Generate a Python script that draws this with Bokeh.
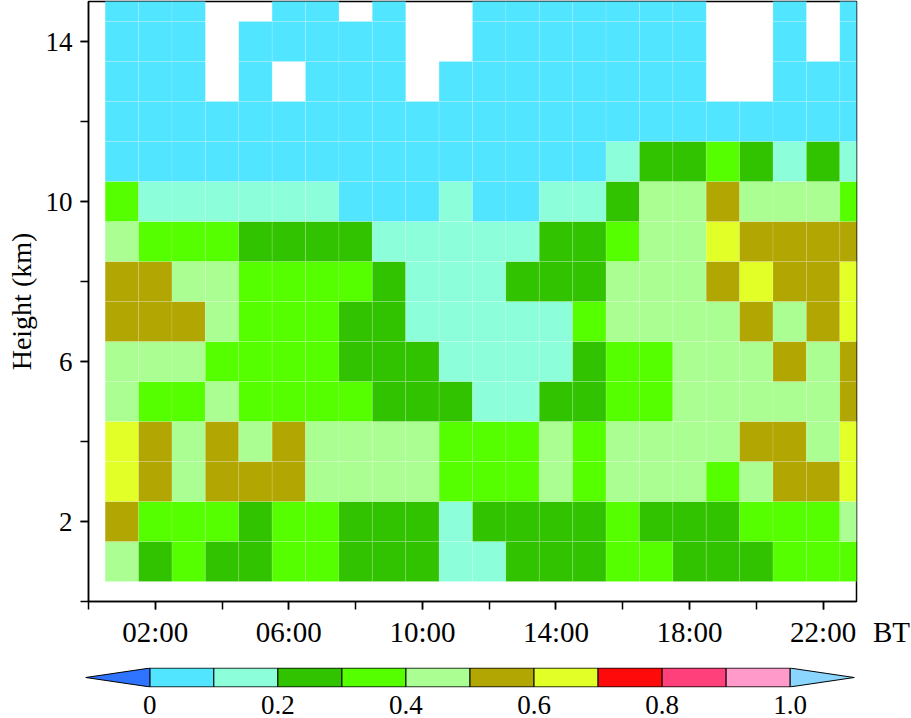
from bokeh.plotting import figure
from bokeh.models import FixedTicker, LinearColorMapper, ColumnDataSource, Range1d
from bokeh.layouts import column, row
from bokeh.transform import transform
from bokeh.embed import file_html
from bokeh.resources import INLINE

# ---------------- data ----------------
hours = list(range(1, 24))          # column centres (BT hour)
heights = list(range(1, 16))        # row centres (km)
N = None                            # missing (white)

h01 = [0.45, 0.25, 0.35, 0.25, 0.25, 0.35, 0.35, 0.25, 0.25, 0.25, 0.15, 0.15, 0.25, 0.25, 0.25, 0.35, 0.35, 0.25, 0.25, 0.25, 0.35, 0.35, 0.35]
h02 = [0.55, 0.35, 0.35, 0.35, 0.25, 0.35, 0.35, 0.25, 0.25, 0.25, 0.15, 0.25, 0.25, 0.25, 0.25, 0.35, 0.25, 0.25, 0.25, 0.35, 0.35, 0.35, 0.45]
h03 = [0.65, 0.55, 0.45, 0.55, 0.55, 0.55, 0.45, 0.45, 0.45, 0.45, 0.35, 0.35, 0.35, 0.45, 0.35, 0.45, 0.45, 0.45, 0.35, 0.45, 0.55, 0.55, 0.65]
h04 = [0.65, 0.55, 0.45, 0.55, 0.45, 0.55, 0.45, 0.45, 0.45, 0.45, 0.35, 0.35, 0.35, 0.45, 0.35, 0.45, 0.45, 0.45, 0.45, 0.55, 0.55, 0.45, 0.65]
h05 = [0.45, 0.35, 0.35, 0.45, 0.35, 0.35, 0.35, 0.35, 0.25, 0.25, 0.25, 0.15, 0.15, 0.25, 0.25, 0.35, 0.35, 0.45, 0.45, 0.45, 0.45, 0.45, 0.55]
h06 = [0.45, 0.45, 0.45, 0.35, 0.35, 0.35, 0.35, 0.25, 0.25, 0.25, 0.15, 0.15, 0.15, 0.15, 0.25, 0.35, 0.35, 0.45, 0.45, 0.45, 0.55, 0.45, 0.55]
h07 = [0.55, 0.55, 0.55, 0.45, 0.35, 0.35, 0.35, 0.25, 0.25, 0.15, 0.15, 0.15, 0.15, 0.15, 0.35, 0.45, 0.45, 0.45, 0.45, 0.55, 0.45, 0.55, 0.65]
h08 = [0.55, 0.55, 0.45, 0.45, 0.35, 0.35, 0.35, 0.35, 0.25, 0.15, 0.15, 0.15, 0.25, 0.25, 0.25, 0.45, 0.45, 0.45, 0.55, 0.65, 0.55, 0.55, 0.65]
h09 = [0.45, 0.35, 0.35, 0.35, 0.25, 0.25, 0.25, 0.25, 0.15, 0.15, 0.15, 0.15, 0.15, 0.25, 0.25, 0.35, 0.45, 0.45, 0.65, 0.55, 0.55, 0.55, 0.55]
h10 = [0.35, 0.15, 0.15, 0.15, 0.15, 0.15, 0.15, 0.05, 0.05, 0.05, 0.15, 0.05, 0.05, 0.15, 0.15, 0.25, 0.45, 0.45, 0.55, 0.45, 0.45, 0.45, 0.35]
h11 = [0.05, 0.05, 0.05, 0.05, 0.05, 0.05, 0.05, 0.05, 0.05, 0.05, 0.05, 0.05, 0.05, 0.05, 0.05, 0.15, 0.25, 0.25, 0.35, 0.25, 0.15, 0.25, 0.15]
h12 = [0.05, 0.05, 0.05, 0.05, 0.05, 0.05, 0.05, 0.05, 0.05, 0.05, 0.05, 0.05, 0.05, 0.05, 0.05, 0.05, 0.05, 0.05, 0.05, 0.05, 0.05, 0.05, 0.05]
h13 = [0.05, 0.05, 0.05, N, 0.05, N, 0.05, 0.05, 0.05, N, 0.05, 0.05, 0.05, 0.05, 0.05, 0.05, 0.05, 0.05, N, N, 0.05, 0.05, 0.05]
h14 = [0.05, 0.05, 0.05, N, 0.05, 0.05, 0.05, 0.05, 0.05, N, N, 0.05, 0.05, 0.05, 0.05, 0.05, 0.05, 0.05, N, N, 0.05, N, 0.05]
h15 = [0.05, 0.05, 0.05, N, N, 0.05, 0.05, N, 0.05, N, N, 0.05, 0.05, 0.05, 0.05, 0.05, 0.05, 0.05, N, N, 0.05, N, 0.05]
rows = [h01, h02, h03, h04, h05, h06, h07, h08, h09, h10, h11, h12, h13, h14, h15]

levels = [0.0, 0.1, 0.2, 0.3, 0.4, 0.5, 0.6, 0.7, 0.8, 0.9, 1.0]
level_colors = ["#52E5FF", "#8CFFDA", "#32C300", "#55FF00", "#ABFF92",
                "#B2A603", "#E2FF28", "#FF0A0A", "#FF407A", "#FF9ACA"]
under_color = "#2F74FF"
over_color = "#8AD6FF"

x_label_hours = [2, 6, 10, 14, 18, 22]
x_labels = ["02:00", "06:00", "10:00", "14:00", "18:00", "22:00"]
x_minor_hours = [0, 2, 4, 6, 8, 10, 12, 14, 16, 18, 20, 22]
y_label_km = [2, 6, 10, 14]
y_minor_km = [0, 2, 4, 6, 8, 10, 12, 14]
cbar_label_levels = [0.0, 0.2, 0.4, 0.6, 0.8, 1.0]
cbar_labels = ["0", "0.2", "0.4", "0.6", "0.8", "1.0"]
time_zone = "BT"

FONT = "Liberation Serif"

# ---------------- layout constants ----------------
TOP, BOTTOM, LEFT, RIGHT = 1, 53, 88, 2
FRAME_W, FRAME_H = 768, 600
MAIN_W = LEFT + FRAME_W + RIGHT
MAIN_H = TOP + FRAME_H + BOTTOM
TICK = 8
X_STANDOFF = 6
X_FS = "29px"

# ---------------- source ----------------
xs, ys, vs = [], [], []
for hk, vals in zip(heights, rows):
    for hr, v in zip(hours, vals):
        if v is not None:
            xs.append(hr); ys.append(hk); vs.append(v)
src = ColumnDataSource(dict(x=xs, y=ys, v=vs))

mapper = LinearColorMapper(palette=level_colors, low=levels[0], high=levels[-1],
                           low_color=under_color, high_color=over_color)

# ---------------- main figure ----------------
p = figure(width=MAIN_W, height=MAIN_H, x_range=Range1d(0, 23), y_range=Range1d(0, 15),
           output_backend="svg", toolbar_location=None,
           min_border_left=LEFT, min_border_right=RIGHT, min_border_top=TOP, min_border_bottom=BOTTOM)
p.rect(x="x", y="y", width=1, height=1, source=src,
       fill_color=transform("v", mapper), line_color="white", line_alpha=0.12, line_width=1)

p.grid.visible = False
p.outline_line_color = "black"
p.outline_line_width = 1.5

for ax in (p.xaxis[0], p.yaxis[0]):
    ax.axis_line_width = 1.5
    ax.axis_line_color = "black"
    ax.major_tick_out = TICK
    ax.major_tick_in = 0
    ax.minor_tick_out = TICK
    ax.minor_tick_in = 0
    ax.major_tick_line_width = 1.5
    ax.minor_tick_line_width = 1.5
    ax.major_tick_line_color = "black"
    ax.minor_tick_line_color = "black"
    ax.major_label_text_font = FONT
    ax.major_label_text_color = "black"

p.xaxis.ticker = FixedTicker(ticks=x_label_hours, minor_ticks=x_minor_hours)
p.xaxis.major_label_overrides = {h: s for h, s in zip(x_label_hours, x_labels)}
p.xaxis.major_label_standoff = X_STANDOFF
p.xaxis.major_label_text_font_size = X_FS

p.yaxis.ticker = FixedTicker(ticks=y_label_km, minor_ticks=y_minor_km)
p.yaxis.major_label_standoff = 8
p.yaxis.major_label_text_font_size = "27px"
p.yaxis.axis_label = "Height (km)"
p.yaxis.axis_label_text_font = FONT
p.yaxis.axis_label_text_font_size = "28px"
p.yaxis.axis_label_text_font_style = "normal"
p.yaxis.axis_label_text_color = "black"
p.yaxis.axis_label_standoff = 6

# ---------------- "BT" unit label, drawn as the tick label of a side axis ----------------
BT_W = 911 - MAIN_W
bt = figure(width=BT_W, height=MAIN_H, x_range=Range1d(0, BT_W), y_range=Range1d(0, 1),
            output_backend="svg", toolbar_location=None,
            min_border_left=0, min_border_right=0, min_border_top=TOP, min_border_bottom=BOTTOM)
bt.yaxis.visible = False
bt.grid.visible = False
bt.outline_line_color = None
BT_POS = 33
bt.xaxis.ticker = FixedTicker(ticks=[BT_POS])
bt.xaxis.major_label_overrides = {BT_POS: time_zone}
bt.xaxis.axis_line_color = None
bt.xaxis.major_tick_out = TICK
bt.xaxis.major_tick_in = 0
bt.xaxis.major_tick_line_color = None
bt.xaxis.minor_tick_line_color = None
bt.xaxis.major_label_standoff = X_STANDOFF
bt.xaxis.major_label_text_font = FONT
bt.xaxis.major_label_text_font_size = X_FS
bt.xaxis.major_label_text_color = "black"

# ---------------- colour bar ----------------
step = levels[1] - levels[0]
CB_H = 718 - MAIN_H
cb = figure(width=911, height=CB_H, x_range=Range1d(levels[0] - step * 1.02, levels[-1] + step * 1.02),
            y_range=Range1d(-0.03, 1.03), output_backend="svg", toolbar_location=None,
            min_border_left=84, min_border_right=56, min_border_top=13, min_border_bottom=CB_H - 13 - 20)
cb.quad(left=levels[:-1], right=levels[1:], bottom=0, top=1,
        fill_color=level_colors, line_color="black", line_width=1)
cb.patches(xs=[[levels[0], levels[0] - step, levels[0]], [levels[-1], levels[-1] + step, levels[-1]]],
           ys=[[0, 0.5, 1], [0, 0.5, 1]], fill_color=[under_color, over_color],
           line_color="black", line_width=1)
cb.grid.visible = False
cb.outline_line_color = None
cb.yaxis.visible = False
cb.xaxis.ticker = FixedTicker(ticks=cbar_label_levels)
cb.xaxis.major_label_overrides = {v: s for v, s in zip(cbar_label_levels, cbar_labels)}
cb.xaxis.axis_line_color = None
cb.xaxis.major_tick_line_color = None
cb.xaxis.minor_tick_line_color = None
cb.xaxis.major_label_text_font = FONT
cb.xaxis.major_label_text_font_size = "27px"
cb.xaxis.major_label_text_color = "black"
cb.xaxis.major_label_standoff = 2

layout = column(row(p, bt, spacing=0), cb, spacing=0)
open("out.html", "w").write(file_html(layout, INLINE))
